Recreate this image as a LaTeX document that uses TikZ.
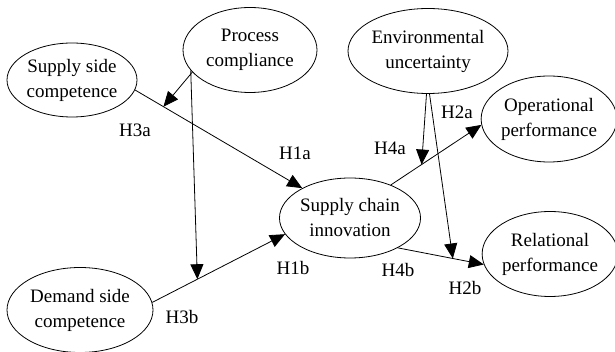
\documentclass[tikz,border=0pt]{standalone}
\usepackage{fontspec}
\setmainfont{Liberation Serif}
\usetikzlibrary{shapes.geometric,arrows.meta}

\begin{document}
\begin{tikzpicture}[x=1pt, y=-1pt, font=\fontsize{19}{25}\selectfont,
		var/.style={ellipse, draw, line width=0.8pt, align=center, inner sep=0pt},
		arr/.style={line width=0.8pt, -{Triangle[length=15pt, width=13pt]}}]
			\useasboundingbox (0,0) rectangle (615,352);
			% constructs
			\node [var, minimum width=130, minimum height=74] (ssc) at (72,80) {Supply side\\competence};
			\node [var, minimum width=134, minimum height=85] (pc) at (250,50) {Process\\compliance};
			\node [var, minimum width=160, minimum height=85] (eu) at (428,51) {Environmental\\uncertainty};
			\node [var, minimum width=131, minimum height=86] (op) at (549,119) {Operational\\performance};
			\node [var, minimum width=134, minimum height=80] (sci) at (350,218) {Supply chain\\innovation};
			\node [var, minimum width=132, minimum height=85] (rp) at (550,254) {Relational\\performance};
			\node [var, minimum width=146, minimum height=85] (dsc) at (80,310) {Demand side\\competence};
			% direct paths
			\draw [arr] (ssc.-9) -- (sci.148) coordinate[pos=0.17] (m3a);
			\draw [arr] (dsc.6) -- (sci.194) coordinate[pos=0.34] (m3b);
			\draw [arr] (sci.39) -- (op.185) coordinate[pos=0.34] (m4a);
			\draw [arr] (sci.-32) -- (rp.189) coordinate[pos=0.64] (m4b);
			% moderating paths
			\draw [arr] (pc.201) -- (m3a);
			\draw [arr] (pc.199) -- (m3b);
			\draw [arr] (eu.268) -- (m4a);
			\draw [arr] (eu.272) -- (m4b);
			% hypotheses
			\node (h1a) at (295,153) {H1a};
			\node (h3a) at (135,130) {H3a};
			\node (h1b) at (293,268) {H1b};
			\node (h3b) at (182,317) {H3b};
			\node (h4a) at (390,148) {H4a};
			\node (h2a) at (457,112) {H2a};
			\node (h4b) at (398,270) {H4b};
			\node (h2b) at (465,288) {H2b};
		\end{tikzpicture}
\end{document}
